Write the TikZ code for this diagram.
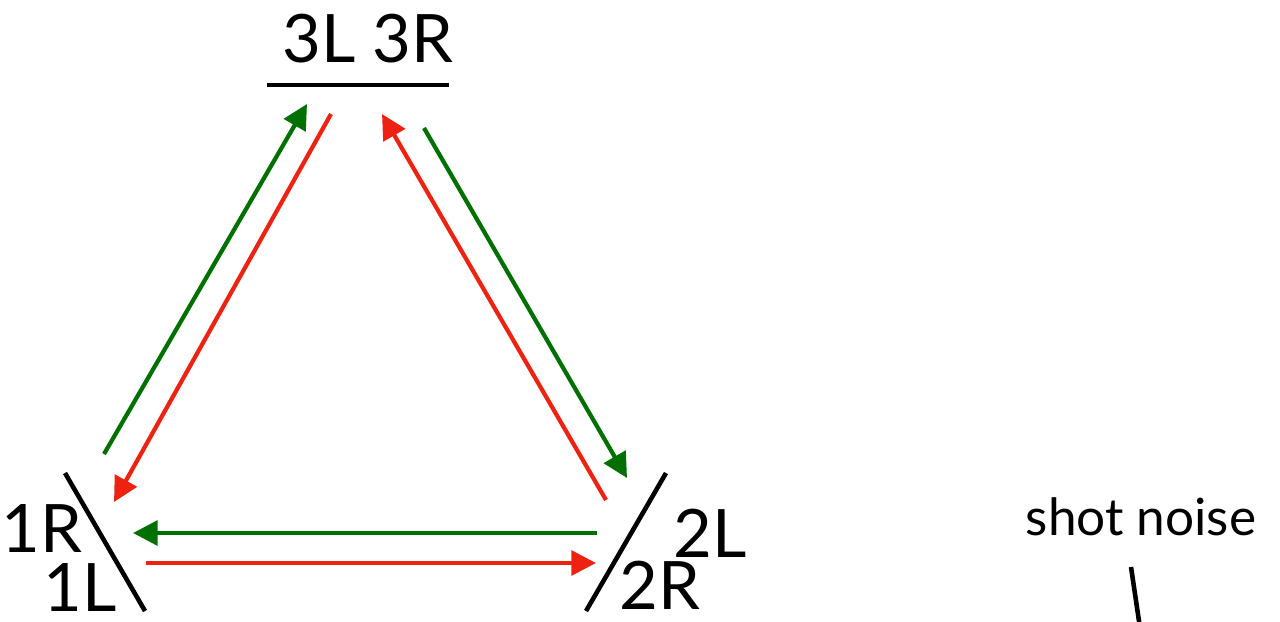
\documentclass[tikz,border=0pt]{standalone}
\usepackage{fontspec}
\setmainfont{Lato}
\usepackage{xcolor}
\usetikzlibrary{arrows.meta}

\definecolor{beamgreen}{RGB}{0,112,0}
\definecolor{beamred}{RGB}{238,34,17}

\begin{document}
\begin{tikzpicture}[
    x=0.01cm, y=-0.01cm,
    mirror/.style={draw=black, line width=1.3pt},
    ccw/.style={draw=beamgreen, line width=1.2pt, -{Triangle[length=7pt, width=7pt]}},
    cw/.style={draw=beamred, line width=1.2pt, -{Triangle[length=7pt, width=7pt]}},
    port/.style={anchor=base, inner sep=0pt, font=\fontsize{19}{22}\selectfont},
    note/.style={anchor=base, inner sep=0pt, font=\fontsize{14.6}{17}\selectfont}
]
    \useasboundingbox (0,0) rectangle (1280,621);

    % mirrors
    \coordinate (m1a) at (65,473);   \coordinate (m1b) at (145,611);
    \coordinate (m2a) at (666,473);  \coordinate (m2b) at (586,611);
    \coordinate (m3a) at (267,85);   \coordinate (m3b) at (449,85);
    \coordinate (sna) at (1131,567); \coordinate (snb) at (1140,628);
    \draw[mirror] (m1a) -- (m1b);
    \draw[mirror] (m2a) -- (m2b);
    \draw[mirror] (m3a) -- (m3b);
    \draw[mirror] (sna) -- (snb);

    % ports
    \node[port] (p3) at (368,62)  {3L 3R};
    \node[port] (p1r) at (42,552) {1R};
    \node[port] (p1l) at (80,611) {1L};
    \node[port] (p2l) at (710,557) {2L};
    \node[port] (p2r) at (660,609) {2R};
    \node[note] (shot) at (1141,535) {shot noise};

    % beam ends
    \coordinate (g13s) at (104,454); \coordinate (g13e) at (307,104);
    \coordinate (r31s) at (331,114); \coordinate (r31e) at (114,502);
    \coordinate (r23s) at (606,500); \coordinate (r23e) at (382,114);
    \coordinate (g32s) at (424,128); \coordinate (g32e) at (627,478);
    \coordinate (g21s) at (597,533); \coordinate (g21e) at (133,533);
    \coordinate (r12s) at (146,563); \coordinate (r12e) at (596,563);

    \draw[ccw] (g13s) -- (g13e);
    \draw[cw]  (r31s) -- (r31e);
    \draw[cw]  (r23s) -- (r23e);
    \draw[ccw] (g32s) -- (g32e);
    \draw[ccw] (g21s) -- (g21e);
    \draw[cw]  (r12s) -- (r12e);
\end{tikzpicture}
\end{document}
